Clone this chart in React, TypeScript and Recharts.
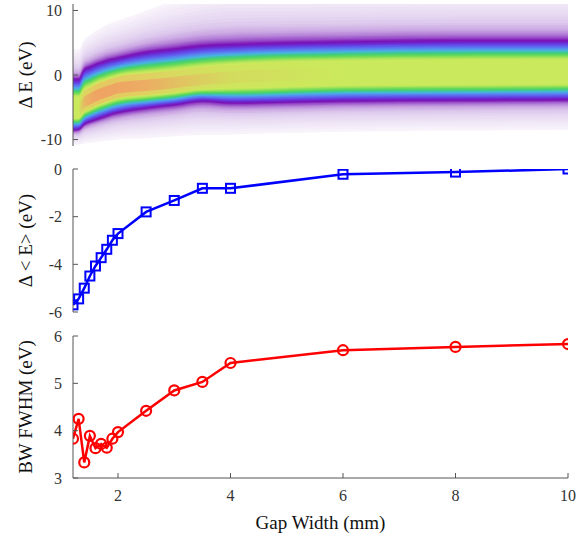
import React from "react";
import { ComposedChart, Line, Area, XAxis, YAxis, Label } from "recharts";

// gap widths (mm) shared by all three panels
const gapWidth = [1.2, 1.3, 1.4, 1.5, 1.6, 1.7, 1.8, 1.9, 2.0, 2.5, 3.0, 3.5, 4.0, 6, 8, 10];
// mean energy shift, eV
const meanShift = [-5.7, -5.45, -5.0, -4.49, -4.07, -3.72, -3.37, -2.99, -2.71, -1.8, -1.32, -0.81, -0.81, -0.22, -0.13, 0];
// bandwidth FWHM, eV
const bwFwhm = [3.83, 4.25, 3.33, 3.89, 3.63, 3.72, 3.64, 3.83, 3.97, 4.42, 4.85, 5.03, 5.43, 5.7, 5.77, 5.83];

// spectrum map, read per gap width: peak position, dark purple edges, faint tails
const peakE = [-5.4, -5.4, -4.4, -3.9, -3.4, -3.0, -2.7, -2.4, -2.1, -1.8, -1.4, -0.9, -0.5, 0.1, 0.2, 0.3];
const edgeTop = [-0.6, -0.6, 0.9, 1.3, 1.7, 2.0, 2.3, 2.5, 2.7, 3.6, 4.1, 4.6, 4.8, 5.2, 5.4, 5.4];
const edgeBottom = [-8.6, -8.5, -7.7, -7.3, -7.0, -6.7, -6.4, -6.1, -5.9, -5.2, -4.7, -4.1, -4.4, -4.1, -4.0, -3.9];
const tailTop = [4, 4, 5.5, 6.2, 6.8, 7.3, 7.8, 8.1, 8.4, 10, 11.5, 12.5, 13, 13, 13, 13];
const tailBottom = [-10.8, -10.8, -10.6, -10.5, -10.4, -10.3, -10.2, -10.1, -10.0, -9.8, -9.5, -9.3, -9.2, -8.8, -8.6, -8.5];
const peakHeat = [0, 0, 0.6, 0.85, 1, 1, 1, 1, 0.95, 0.8, 0.5, 0.3, 0.15, 0, 0, 0];

// colour stops: 0 = peak, 1 = dark purple edge, 2 = outer tail
const stopT = [2.0, 1.75, 1.55, 1.35, 1.22, 1.12, 1.05, 1.0, 0.93, 0.86, 0.78, 0.7, 0.62, 0.55, 0.48, 0.42];
const stopColor = [
  "#f8f3fb", "#efe6f6", "#e7d9f2", "#dac4eb", "#c9a4e2", "#ae76d4", "#9444c6", "#7a12b6",
  "#6c2ad0", "#6250ec", "#5a80f0", "#48b4e0", "#40cf78", "#6cda58", "#a8e45a", "#cbe95c",
];
const peakT = [0.38, 0.2];
const peakColor = ["#e6c862", "#f0a064"];

const xTicks = [2, 4, 6, 8, 10];
const font = "'Liberation Serif', 'Times New Roman', 'DejaVu Serif', serif";
const tickStyle = { fontFamily: font, fontSize: 16, fill: "#333" };
const frame = "#555";

const hex = (c: string) => [1, 3, 5].map((j) => parseInt(c.slice(j, j + 2), 16));
const mix = (a: string, b: string, f: number) => {
  const A = hex(a);
  const B = hex(b);
  return "rgb(" + A.map((v, j) => Math.round(v + (B[j] - v) * f)).join(",") + ")";
};

// finer levels between the colour stops, drawn outside-in
const SUB = 3;
const levels: { t: number; color: string }[] = [];
stopT.forEach((t, k) => {
  if (k === stopT.length - 1) {
    levels.push({ t, color: stopColor[k] });
    return;
  }
  for (let j = 0; j < SUB; j++) {
    const f = j / SUB;
    levels.push({ t: t + (stopT[k + 1] - t) * f, color: mix(stopColor[k], stopColor[k + 1], f) });
  }
});

const heatRows = gapWidth.map((g, i) => {
  const up = (t: number) =>
    t <= 1 ? peakE[i] + t * (edgeTop[i] - peakE[i]) : edgeTop[i] + (t - 1) * (tailTop[i] - edgeTop[i]);
  const dn = (t: number) =>
    t <= 1 ? peakE[i] + t * (edgeBottom[i] - peakE[i]) : edgeBottom[i] + (t - 1) * (tailBottom[i] - edgeBottom[i]);
  const row: Record<string, any> = { gap: g };
  levels.forEach((l, k) => (row["h" + k] = [dn(l.t), up(l.t)]));
  peakT.forEach((t, k) => (row["p" + k] = [dn(t), up(t)]));
  return row;
});

const shiftRows = gapWidth.map((g, i) => ({ gap: g, shift: meanShift[i] }));
const fwhmRows = gapWidth.map((g, i) => ({ gap: g, fwhm: bwFwhm[i] }));

const SquareDot = (p: any) => (
  <rect key={p.key} x={p.cx - 4.5} y={p.cy - 4.5} width={9} height={9} fill="none" stroke="#0000ff" strokeWidth={2} />
);
const CircleDot = (p: any) => (
  <circle key={p.key} cx={p.cx} cy={p.cy} r={5} fill="none" stroke="#ff0000" strokeWidth={2.2} />
);

const blank = () => "";

function frameAxes(domain: [number, number], ticks: number[], label: string, showX: boolean) {
  return [
    <XAxis
      key="xb"
      xAxisId="b"
      dataKey="gap"
      type="number"
      domain={[1.2, 10]}
      ticks={xTicks}
      interval={0}
      allowDataOverflow
      height={showX ? 58 : 0}
      tickSize={-5}
      tickMargin={17}
      tick={tickStyle}
      tickFormatter={showX ? undefined : blank}
      axisLine={{ stroke: frame }}
      tickLine={{ stroke: frame }}
    >
      {showX && (
        <Label
          value="Gap Width (mm)"
          position="insideBottom"
          offset={7}
          fontFamily={font}
          fontSize={19}
          fill="#111"
        />
      )}
    </XAxis>,
    <XAxis
      key="xt"
      xAxisId="t"
      orientation="top"
      dataKey="gap"
      type="number"
      domain={[1.2, 10]}
      ticks={xTicks}
      interval={0}
      allowDataOverflow
      height={0}
      tickSize={-5}
      tickFormatter={blank}
      axisLine={{ stroke: frame }}
      tickLine={{ stroke: frame }}
    />,
    <YAxis
      key="yl"
      yAxisId="l"
      type="number"
      domain={domain}
      ticks={ticks}
      interval={0}
      allowDataOverflow
      width={50}
      tickSize={-5}
      tickMargin={16}
      tick={tickStyle}
      axisLine={{ stroke: frame }}
      tickLine={{ stroke: frame }}
    >
      <Label
        value={label}
        angle={-90}
        position="insideLeft"
        offset={2}
        fontFamily={font}
        fontSize={19}
        fill="#111"
        style={{ textAnchor: "middle" }}
      />
    </YAxis>,
    <YAxis
      key="yr"
      yAxisId="r"
      orientation="right"
      type="number"
      domain={domain}
      ticks={ticks}
      interval={0}
      allowDataOverflow
      width={0}
      tickSize={-5}
      tickFormatter={blank}
      axisLine={{ stroke: frame }}
      tickLine={{ stroke: frame }}
    />,
  ];
}

// invisible series so the mirrored top/right axes get drawn
const ghost = (key: string) => (
  <Line
    xAxisId="t"
    yAxisId="r"
    dataKey={key}
    stroke="none"
    dot={false}
    activeDot={false}
    legendType="none"
    isAnimationActive={false}
  />
);

export default function App() {
  return (
    <div
      style={{
        position: "absolute",
        left: 0,
        top: 0,
        width: 579,
        height: 536,
        background: "#fff",
        fontFamily: font,
      }}
    >
      <div style={{ position: "absolute", left: 0, top: 0 }}>
        <ComposedChart width={579} height={150} data={heatRows} margin={{ top: 4, right: 11, bottom: 4, left: 23 }}>
          <defs>
            {peakT.map((_, k) => (
              <linearGradient key={k} id={"peakFade" + k} x1="0" y1="0" x2="1" y2="0">
                {gapWidth.map((g, i) => (
                  <stop
                    key={i}
                    offset={(g - gapWidth[0]) / (gapWidth[gapWidth.length - 1] - gapWidth[0])}
                    stopColor={peakColor[k]}
                    stopOpacity={peakHeat[i] * (k === 0 ? 0.95 : 0.9)}
                  />
                ))}
              </linearGradient>
            ))}
          </defs>
          {frameAxes([-11, 11], [-10, 0, 10], "Δ E (eV)", false)}
          {levels.map((l, k) => (
            <Area
              key={"h" + k}
              xAxisId="b"
              yAxisId="l"
              dataKey={"h" + k}
              type="monotone"
              stroke="none"
              fill={l.color}
              fillOpacity={1}
              dot={false}
              activeDot={false}
              isAnimationActive={false}
            />
          ))}
          {peakT.map((_, k) => (
            <Area
              key={"p" + k}
              xAxisId="b"
              yAxisId="l"
              dataKey={"p" + k}
              type="monotone"
              stroke="none"
              fill={`url(#peakFade${k})`}
              fillOpacity={1}
              dot={false}
              activeDot={false}
              isAnimationActive={false}
            />
          ))}
          {ghost("gap")}
        </ComposedChart>
      </div>
      <div style={{ position: "absolute", left: 0, top: 150 }}>
        <ComposedChart width={579} height={170} data={shiftRows} margin={{ top: 19, right: 11, bottom: 8, left: 23 }}>
          {frameAxes([-6, 0], [-6, -4, -2, 0], "Δ < E> (eV)", false)}
          <Line
            xAxisId="b"
            yAxisId="l"
            dataKey="shift"
            stroke="#0000ff"
            strokeWidth={2.5}
            dot={SquareDot}
            activeDot={false}
            isAnimationActive={false}
          />
          {ghost("shift")}
        </ComposedChart>
      </div>
      <div style={{ position: "absolute", left: 0, top: 320 }}>
        <ComposedChart width={579} height={216} data={fwhmRows} margin={{ top: 16, right: 11, bottom: 0, left: 23 }}>
          {frameAxes([3, 6], [3, 4, 5, 6], "BW FWHM (eV)", true)}
          <Line
            xAxisId="b"
            yAxisId="l"
            dataKey="fwhm"
            stroke="#ff0000"
            strokeWidth={2.5}
            dot={CircleDot}
            activeDot={false}
            isAnimationActive={false}
          />
          {ghost("fwhm")}
        </ComposedChart>
      </div>
    </div>
  );
}
